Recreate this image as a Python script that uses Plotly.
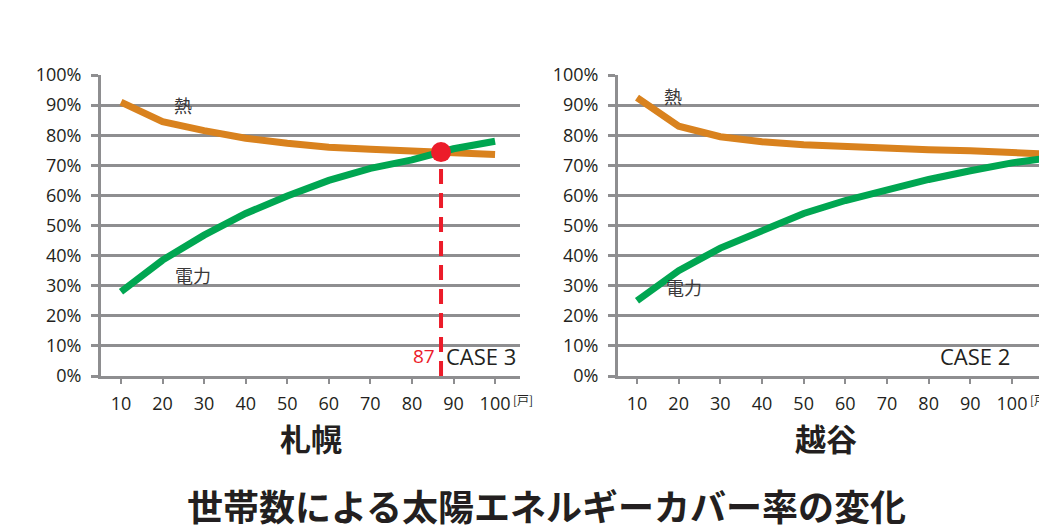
import plotly.graph_objects as go

# Household counts on the x axis
households = [10, 20, 30, 40, 50, 60, 70, 80, 90, 100]
y_ticks = [0, 10, 20, 30, 40, 50, 60, 70, 80, 90, 100]
y_tick_text = [f"{v}%" for v in y_ticks]

# Sapporo (CASE 3): solar coverage ratio (%) for heat and electricity
sapporo_heat = [91.0, 84.5, 81.5, 79.0, 77.3, 76.0, 75.3, 74.9, 74.2, 73.6]
sapporo_power = [28.0, 38.5, 46.8, 54.0, 59.8, 65.0, 69.0, 71.8, 75.5, 78.0]
sapporo_cross_n = 87
sapporo_cross_pct = 74.4

# Koshigaya (CASE 2)
koshigaya_heat = [92.5, 83.0, 79.5, 77.8, 76.8, 76.1, 75.6, 75.2, 74.8, 74.3]
koshigaya_power = [25.0, 35.0, 42.5, 48.5, 54.0, 58.3, 62.0, 65.3, 68.2, 70.8]
koshigaya_cross_n = 114
koshigaya_cross_pct = 73.4

HEAT = "#D9821E"
POWER = "#00A651"
RED = "#EC1C2A"
GRID = "#8E8E90"
TEXT = "#231F20"
SERIES_TEXT = "#3A3839"
LATIN = "Open Sans, Noto Sans, sans-serif"
CJK = "Noto Sans CJK JP, sans-serif"
W, H = 1039, 531

fig = go.Figure()

# Sapporo curves
fig.add_trace(go.Scatter(x=households, y=sapporo_heat, mode="lines",
                         line=dict(color=HEAT, width=7), xaxis="x", yaxis="y"))
fig.add_trace(go.Scatter(x=households, y=sapporo_power, mode="lines",
                         line=dict(color=POWER, width=7), xaxis="x", yaxis="y"))
fig.add_trace(go.Scatter(x=[sapporo_cross_n, sapporo_cross_n], y=[0, sapporo_cross_pct],
                         mode="lines", line=dict(color=RED, width=4, dash="15px,9px"),
                         xaxis="x", yaxis="y"))
fig.add_trace(go.Scatter(x=[sapporo_cross_n], y=[sapporo_cross_pct], mode="markers",
                         marker=dict(color=RED, size=20), xaxis="x", yaxis="y"))

# Koshigaya curves run on to their crossing point
fig.add_trace(go.Scatter(x=households + [koshigaya_cross_n],
                         y=koshigaya_heat + [koshigaya_cross_pct], mode="lines",
                         line=dict(color=HEAT, width=7), xaxis="x2", yaxis="y2"))
fig.add_trace(go.Scatter(x=households + [koshigaya_cross_n],
                         y=koshigaya_power + [koshigaya_cross_pct], mode="lines",
                         line=dict(color=POWER, width=7), xaxis="x2", yaxis="y2"))
fig.add_trace(go.Scatter(x=[koshigaya_cross_n], y=[koshigaya_cross_pct], mode="markers",
                         marker=dict(color=RED, size=20), cliponaxis=False,
                         xaxis="x2", yaxis="y2"))

ydom = [155 / H, 456 / H]


def xaxis(domain, rng, anchor):
    return dict(domain=domain, range=rng, tickvals=households, ticks="outside",
                ticklen=5, tickwidth=2, tickcolor=GRID, showgrid=False,
                showline=True, linecolor=GRID, linewidth=3, zeroline=False,
                anchor=anchor, ticklabelstandoff=4, automargin=False,
                tickfont=dict(family=LATIN, size=18, color=TEXT), fixedrange=True)


def yaxis(anchor):
    return dict(domain=ydom, range=[0, 100], tickvals=y_ticks, ticktext=y_tick_text,
                ticks="outside", ticklen=7, tickwidth=3, tickcolor=GRID,
                showgrid=True, gridcolor=GRID, gridwidth=3, showline=True,
                linecolor=GRID, linewidth=3, zeroline=False, anchor=anchor,
                ticklabelstandoff=6, automargin=False,
                tickfont=dict(family=LATIN, size=18, color=TEXT), fixedrange=True)


fig.update_layout(
    width=W, height=H,
    margin=dict(l=0, r=0, t=0, b=0, pad=0),
    paper_bgcolor="white", plot_bgcolor="white",
    showlegend=False,
    xaxis=xaxis([101 / W, 520 / W], [5.19, 106.0], "y"),
    yaxis=yaxis("x"),
    xaxis2=xaxis([618 / W, 1.0], [5.44, 106.48], "y2"),
    yaxis2=yaxis("x2"),
)


def label(text, x, y, xref, yref, size, color=TEXT, family=CJK, **kw):
    d = dict(text=text, x=x, y=y, xref=xref, yref=yref, showarrow=False,
             xanchor="center", yanchor="middle",
             font=dict(family=family, size=size, color=color))
    d.update(kw)
    return d


py = lambda px: (H - px) / H   # pixel row -> paper fraction
pxx = lambda px: px / W        # pixel column -> paper fraction

annotations = [
    # series labels
    label("熱", 24.9, 90.2, "x", "y", 18, SERIES_TEXT),
    label("電力", 27.3, 33.6, "x", "y", 18, SERIES_TEXT),
    label("熱", 18.7, 93.0, "x2", "y2", 18, SERIES_TEXT),
    label("電力", 21.2, 29.5, "x2", "y2", 18, SERIES_TEXT),
    # crossing values
    label(str(sapporo_cross_n), sapporo_cross_n, 6.5, "x", "y", 19, RED, LATIN,
          xanchor="right", xshift=-4),
    label(str(koshigaya_cross_n), koshigaya_cross_n, 63.5, "x2", "y2", 19, RED, LATIN),
    # case labels
    label("CASE 3", sapporo_cross_n, 6.5, "x", "y", 22, TEXT, LATIN,
          xanchor="left", xshift=3),
    label("CASE 2", pxx(1012), 6.5, "paper", "y2", 22, TEXT, LATIN, xanchor="right"),
    # unit labels
    label("[戸]", 100, py(399), "x", "paper", 12, xanchor="left", xshift=16),
    label("[戸]", 100, py(399), "x2", "paper", 12, xanchor="left", xshift=16),
    # city names
    label("<b>札幌</b>", pxx(311), py(437), "paper", "paper", 31),
    label("<b>越谷</b>", pxx(826), py(437), "paper", "paper", 31),
    # title
    label("<b>世帯数による太陽エネルギーカバー率の変化</b>", pxx(546), py(505),
          "paper", "paper", 36),
]
fig.update_layout(annotations=annotations)

fig.write_html("out.html")
